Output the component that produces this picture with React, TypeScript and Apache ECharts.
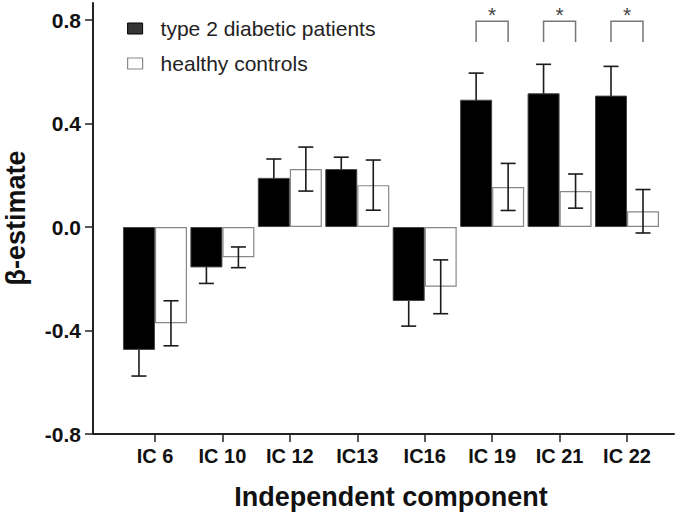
import React, { useEffect, useRef } from "react";
import * as echarts from "echarts";

const categories = ["IC 6", "IC 10", "IC 12", "IC13", "IC16", "IC 19", "IC 21", "IC 22"];
const diabetic = [-0.475, -0.156, 0.19, 0.224, -0.286, 0.492, 0.517, 0.508];
const diabeticErr = [0.101, 0.062, 0.073, 0.046, 0.097, 0.103, 0.112, 0.113];
const controls = [-0.372, -0.117, 0.224, 0.162, -0.231, 0.155, 0.139, 0.061];
const controlsErr = [0.087, 0.04, 0.085, 0.097, 0.104, 0.091, 0.066, 0.084];
const significance = ["", "", "", "", "", "*", "*", "*"];
const yTicks = [-0.8, -0.4, 0, 0.4, 0.8];
const seriesNames = ["type 2 diabetic patients", "healthy controls"];

const FONT = '"Liberation Sans", Arial, Helvetica, sans-serif';
const BAR_W = 32;

function errorRenderer(offset: number) {
  return (params: any, api: any) => {
    const x = api.value(0);
    const v = api.value(1);
    const e = api.value(2);
    const top = api.coord([x, v + e]);
    const bot = api.coord([x, v - e]);
    const cx = top[0] + offset;
    const cap = 7.5;
    const style = { stroke: "#1a1a1a", lineWidth: 1.6 };
    return {
      type: "group",
      children: [
        { type: "line", shape: { x1: cx, y1: top[1], x2: cx, y2: bot[1] }, style },
        { type: "line", shape: { x1: cx - cap, y1: top[1], x2: cx + cap, y2: top[1] }, style },
        { type: "line", shape: { x1: cx - cap, y1: bot[1], x2: cx + cap, y2: bot[1] }, style },
      ],
    };
  };
}

export default function App() {
  const ref = useRef<HTMLDivElement>(null);
  useEffect(() => {
    if (!ref.current) return;
    const chart = echarts.init(ref.current, null, { renderer: "svg" });
    const sigData = significance
      .map((s, i) => (s ? [i, 0.8, s] : null))
      .filter((d) => d !== null);
    chart.setOption({
      animation: false,
      backgroundColor: "#ffffff",
      grid: { left: 93, right: 1, top: 3, bottom: 81, containLabel: false },
      legend: {
        orient: "vertical",
        left: 122,
        top: 13,
        itemWidth: 15,
        itemHeight: 11,
        itemGap: 14,
        icon: "rect",
        selectedMode: false,
        data: [
          { name: seriesNames[0], itemStyle: { color: "#363636", borderColor: "#000", borderWidth: 1 } },
          { name: seriesNames[1], itemStyle: { color: "#ffffff", borderColor: "#888", borderWidth: 1.2 } },
        ],
        textStyle: {
          fontFamily: FONT,
          fontSize: 21,
          lineHeight: 21,
          color: "#222",
          padding: [0, 0, 0, 13],
        },
      },
      xAxis: {
        type: "value",
        min: -0.919,
        max: 7.697,
        splitLine: { show: false },
        axisLine: { show: true, onZero: false, lineStyle: { color: "#222", width: 2 } },
        axisTick: {
          show: true,
          customValues: categories.map((_, i) => i),
          length: 8,
          lineStyle: { color: "#222", width: 1.5 },
        },
        axisLabel: {
          customValues: categories.map((_, i) => i),
          formatter: (v: number) => categories[Math.round(v)] ?? "",
          fontFamily: FONT,
          fontWeight: "bold",
          fontSize: 20,
          color: "#111",
          margin: 12,
        },
      },
      yAxis: {
        type: "value",
        min: -0.8,
        max: 0.866,
        splitLine: { show: false },
        axisLine: { show: true, onZero: false, lineStyle: { color: "#222", width: 2 } },
        axisTick: {
          show: true,
          customValues: yTicks,
          length: 8,
          lineStyle: { color: "#222", width: 1.5 },
        },
        axisLabel: {
          customValues: yTicks,
          formatter: (v: number) => v.toFixed(1),
          fontFamily: FONT,
          fontWeight: "bold",
          fontSize: 21,
          color: "#111",
          margin: 12,
        },
      },
      graphic: [
        {
          type: "text",
          x: 16,
          y: 218,
          rotation: Math.PI / 2,
          style: {
            text: "β-estimate",
            fontFamily: FONT,
            fontWeight: "bold",
            fontSize: 27,
            fill: "#111",
            textAlign: "center",
            textVerticalAlign: "middle",
          },
        },
        {
          type: "text",
          x: 391,
          y: 497,
          style: {
            text: "Independent component",
            fontFamily: FONT,
            fontWeight: "bold",
            fontSize: 27,
            fill: "#111",
            textAlign: "center",
            textVerticalAlign: "middle",
          },
        },
      ],
      series: [
        {
          name: seriesNames[0],
          type: "bar",
          barWidth: BAR_W,
          barGap: "0%",
          data: diabetic.map((v, i) => [i, v]),
          itemStyle: { color: "#000000", borderColor: "#444", borderWidth: 1 },
          z: 2,
        },
        {
          name: seriesNames[1],
          type: "bar",
          barWidth: BAR_W,
          barGap: "0%",
          data: controls.map((v, i) => [i, v]),
          itemStyle: { color: "#ffffff", borderColor: "#888", borderWidth: 1.2 },
          z: 2,
        },
        {
          type: "custom",
          name: "diabetic error",
          renderItem: errorRenderer(-BAR_W / 2),
          data: diabetic.map((v, i) => [i, v, diabeticErr[i]]),
          z: 1,
          silent: true,
        },
        {
          type: "custom",
          name: "control error",
          renderItem: errorRenderer(BAR_W / 2),
          data: controls.map((v, i) => [i, v, controlsErr[i]]),
          z: 3,
          silent: true,
        },
        {
          type: "custom",
          name: "significance",
          silent: true,
          z: 3,
          data: sigData,
          renderItem: (params: any, api: any) => {
            const k = api.value(0);
            const top = api.coord([k, 0.795]);
            const leg = api.coord([k, 0.715]);
            const star = api.coord([k, 0.83]);
            const x1 = top[0] - BAR_W / 2;
            const x2 = top[0] + BAR_W / 2;
            return {
              type: "group",
              children: [
                {
                  type: "polyline",
                  shape: {
                    points: [
                      [x1, leg[1]],
                      [x1, top[1]],
                      [x2, top[1]],
                      [x2, leg[1]],
                    ],
                  },
                  style: { stroke: "#777", lineWidth: 1.5, fill: "none" },
                },
                {
                  type: "text",
                  x: star[0],
                  y: star[1] + 2,
                  style: {
                    text: "*",
                    fontFamily: FONT,
                    fontSize: 21,
                    fill: "#444",
                    textAlign: "center",
                    textVerticalAlign: "middle",
                  },
                },
              ],
            };
          },
        },
      ],
    });
    return () => chart.dispose();
  }, []);
  return (
    <div
      ref={ref}
      style={{ position: "fixed", left: 0, top: 0, width: 675, height: 515 }}
    />
  );
}
